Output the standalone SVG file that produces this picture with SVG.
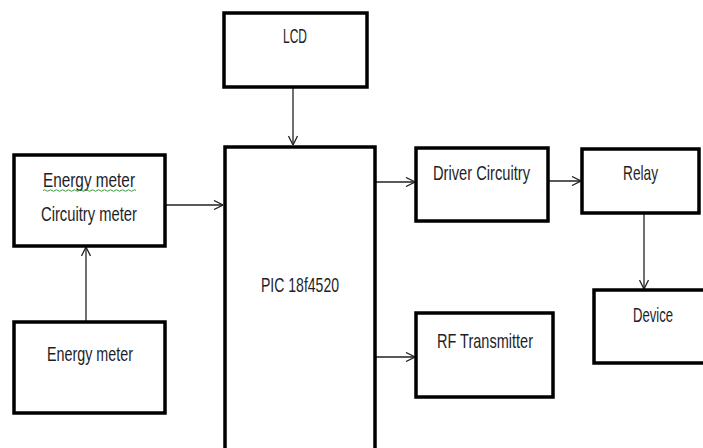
<svg xmlns="http://www.w3.org/2000/svg" width="703" height="448" viewBox="0 0 703 448">
<style>
.box{fill:#fff;stroke:#000;stroke-width:3.5}
.t{font-family:"Liberation Sans Narrow","Liberation Sans",Arial,sans-serif;font-size:21px;fill:#1e1e2a}
.c{fill:none;stroke:#222;stroke-width:1.3}
</style>
<defs>
<marker id="a" viewBox="0 0 10 10" refX="10" refY="5" markerWidth="10" markerHeight="10" markerUnits="userSpaceOnUse" orient="auto">
<path d="M1,0.5 L10,5 L1,9.5" fill="none" stroke="#222" stroke-width="1.3"/>
</marker>
</defs>
<rect width="703" height="448" fill="#fff"/>
<g id="connectors">
<line class="c" x1="293" y1="87" x2="293" y2="145" marker-end="url(#a)"/>
<line class="c" x1="166" y1="205" x2="223" y2="205" marker-end="url(#a)"/>
<line class="c" x1="86" y1="321" x2="86" y2="247" marker-end="url(#a)"/>
<line class="c" x1="376" y1="182" x2="415" y2="182" marker-end="url(#a)"/>
<line class="c" x1="548" y1="181" x2="581" y2="181" marker-end="url(#a)"/>
<line class="c" x1="644" y1="213" x2="644" y2="289" marker-end="url(#a)"/>
<line class="c" x1="376" y1="357" x2="415" y2="357" marker-end="url(#a)"/>
</g>
<g id="lcd">
<rect class="box" x="224" y="13" width="143" height="74"/>
<text class="t" x="295" y="43" text-anchor="middle" textLength="24" lengthAdjust="spacingAndGlyphs">LCD</text>
</g>
<g id="pic">
<rect class="box" x="225" y="147" width="150" height="310"/>
<text class="t" x="300" y="292" text-anchor="middle" textLength="78" lengthAdjust="spacingAndGlyphs">PIC 18f4520</text>
</g>
<g id="emc">
<rect class="box" x="14" y="155" width="151" height="91"/>
<text class="t" x="89" y="187" text-anchor="middle" textLength="92" lengthAdjust="spacingAndGlyphs">Energy  meter</text>
<path d="M43,190.5 q1.5,-1.5 3,0 t3,0 t3,0 t3,0 t3,0 t3,0 t3,0 t3,0 t3,0 t3,0 t3,0 t3,0 t3,0 t3,0 t3,0 t3,0 t3,0 t3,0 t3,0 t3,0 t3,0 t3,0 t3,0 t3,0 t3,0 t3,0 t3,0 t3,0 t3,0 t3,0 t3,0" fill="none" stroke="#3a9a3a" stroke-width="1"/>
<text class="t" x="89" y="221" text-anchor="middle" textLength="96" lengthAdjust="spacingAndGlyphs">Circuitry meter</text>
</g>
<g id="em">
<rect class="box" x="14" y="322" width="151" height="91"/>
<text class="t" x="90" y="361" text-anchor="middle" textLength="86" lengthAdjust="spacingAndGlyphs">Energy meter</text>
</g>
<g id="driver">
<rect class="box" x="416" y="148" width="132" height="73"/>
<text class="t" x="481.5" y="180" text-anchor="middle" textLength="97" lengthAdjust="spacingAndGlyphs">Driver Circuitry</text>
</g>
<g id="relay">
<rect class="box" x="582" y="149" width="117" height="64"/>
<text class="t" x="640.5" y="180" text-anchor="middle" textLength="35" lengthAdjust="spacingAndGlyphs">Relay</text>
</g>
<g id="device">
<rect class="box" x="594" y="290" width="115" height="73"/>
<text class="t" x="653" y="322" text-anchor="middle" textLength="40" lengthAdjust="spacingAndGlyphs">Device</text>
</g>
<g id="rf">
<rect class="box" x="416" y="313" width="137" height="84"/>
<text class="t" x="485" y="348" text-anchor="middle" textLength="96" lengthAdjust="spacingAndGlyphs">RF Transmitter</text>
</g>
</svg>
